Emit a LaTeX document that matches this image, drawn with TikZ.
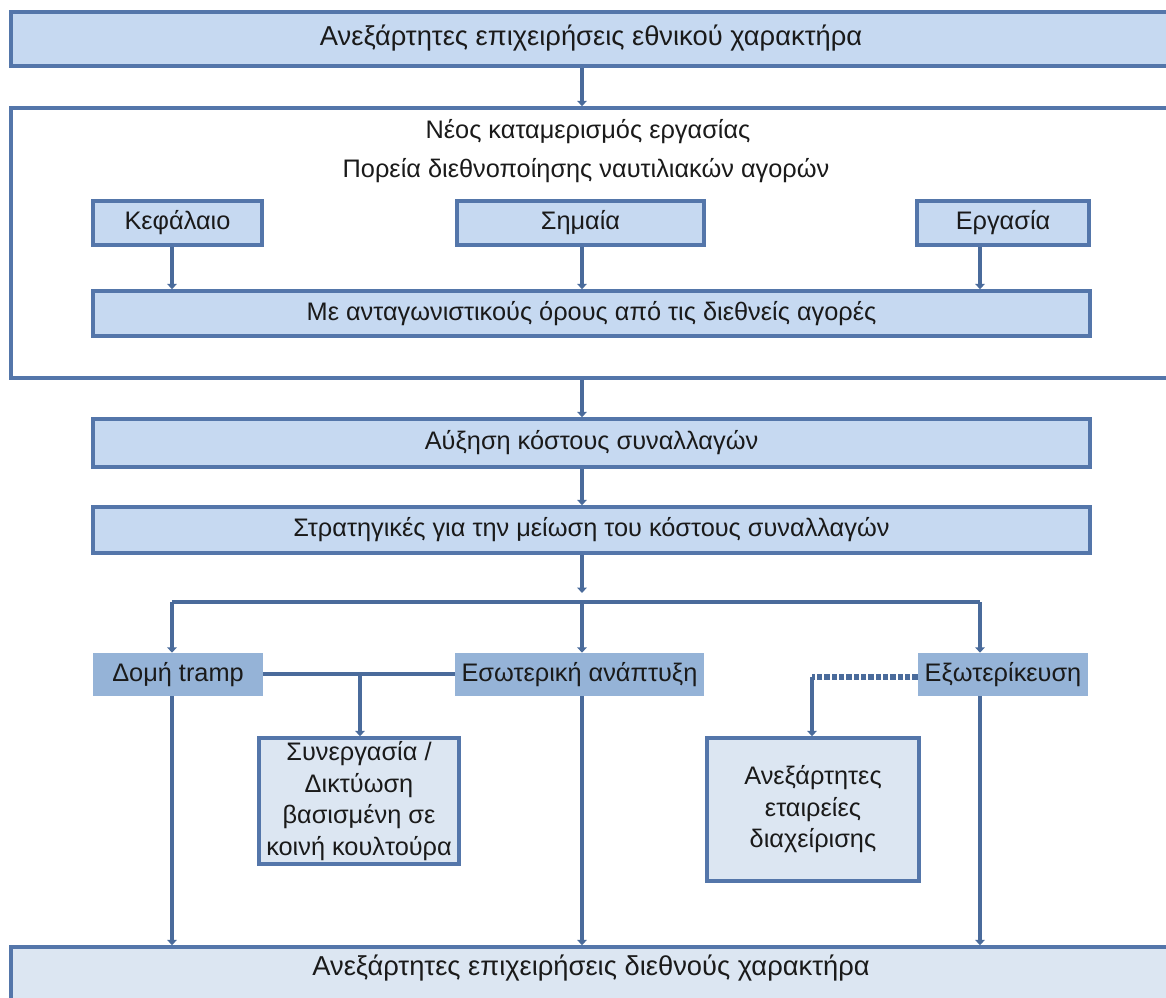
\documentclass[tikz,border=0pt]{standalone}
\usepackage{fontspec}
\setmainfont{Liberation Sans}
\usetikzlibrary{arrows.meta}
\definecolor{bord}{HTML}{5476AA}
\definecolor{conn}{HTML}{4A6B9B}
\definecolor{fillA}{HTML}{C6D9F1}
\definecolor{fillB}{HTML}{DCE6F2}
\definecolor{fillC}{HTML}{95B3D7}
\definecolor{txtc}{HTML}{1A1A1A}
\begin{document}
\begin{tikzpicture}[x=0.75pt,y=-0.75pt,
  font=\fontsize{19}{23.6}\selectfont, text=txtc,
  boxA/.style={draw=bord, line width=2.6pt, fill=fillA, inner sep=0pt, align=center},
  boxB/.style={draw=bord, line width=2.6pt, fill=fillB, inner sep=0pt, align=center},
  boxW/.style={draw=bord, line width=2.6pt, fill=white, inner sep=0pt},
  boxC/.style={fill=fillC, inner sep=0pt, align=center},
  txt/.style={inner sep=0pt},
  big/.style={font=\fontsize{20.5}{24}\selectfont},
  conn/.style={draw=conn, line width=3pt},
  arr/.style={conn, -{Triangle[width=7pt,length=4pt]}},
  dsh/.style={draw=conn, line width=3.8pt, dash pattern=on 4pt off 1.5pt}]
\useasboundingbox (0,0) rectangle (1166,997);
\clip (0,0) rectangle (1166,997);
\coordinate (cx) at (582,0);
% top box
\node[boxA, minimum width=870.75pt, minimum height=40.5pt] (top) at (591.5,39) {};
\node[txt, big] (toplabel) at (591,38) {Ανεξάρτητες επιχειρήσεις εθνικού χαρακτήρα};
% outer box
\node[boxW, minimum width=870.75pt, minimum height=202.5pt] (outer) at (591.5,243) {};
\node[txt] (neos) at (588,132) {Νέος καταμερισμός εργασίας};
\node[txt] (poreia) at (586,171) {Πορεία διεθνοποίησης ναυτιλιακών αγορών};
\node[boxA, minimum width=126.75pt, minimum height=33pt] (kef) at (177.5,223) {Κεφάλαιο};
\node[boxA, minimum width=185.25pt, minimum height=33pt] (sim) at (580.5,223) {Σημαία};
\node[boxA, minimum width=129pt, minimum height=33pt] (erg) at (1003,223) {Εργασία};
\node[boxA, minimum width=747.75pt, minimum height=33.75pt] (me) at (591.5,313.5) {Με ανταγωνιστικούς όρους από τις διεθνείς αγορές};
\node[boxA, minimum width=747.75pt, minimum height=36pt] (afx) at (591.5,443) {Αύξηση κόστους συναλλαγών};
\node[boxA, minimum width=747.75pt, minimum height=34.5pt] (str) at (591.5,530) {Στρατηγικές για την μείωση του κόστους συναλλαγών};
% strategies
\node[boxC, minimum width=127.5pt, minimum height=32.25pt] (tramp) at (178,674.5) {Δομή tramp};
\node[boxC, minimum width=186.75pt, minimum height=32.25pt] (eso) at (579.5,674.5) {Εσωτερική ανάπτυξη};
\node[boxC, minimum width=127.5pt, minimum height=32.25pt] (exo) at (1003,674.5) {Εξωτερίκευση};
\node[boxB, minimum width=150pt, minimum height=94.5pt] (syn) at (359,801) {Συνεργασία /\\Δικτύωση\\βασισμένη σε\\κοινή κουλτούρα};
\node[boxB, minimum width=159pt, minimum height=107.25pt] (ane) at (813,809.5) {Ανεξάρτητες\\εταιρείες\\διαχείρισης};
% bottom box
\node[boxB, minimum width=870.75pt, minimum height=43.5pt] (bot) at (591.5,976) {};
\node[txt, big] (botlabel) at (591,968) {Ανεξάρτητες επιχειρήσεις διεθνούς χαρακτήρα};
% connector coordinates
\coordinate (xk) at (172,0);
\coordinate (xe) at (980,0);
\coordinate (hl) at (0,602);
\coordinate (hy) at (0,674);
\coordinate (xs) at (360,0);
\coordinate (xa) at (812,0);
\coordinate (dy) at (0,677);
\coordinate (stop) at (0,593);
% connectors
\draw[arr] (top.south -| cx) -- (outer.north -| cx);
\draw[arr] (kef.south -| xk) -- (me.north -| xk);
\draw[arr] (sim.south -| cx) -- (me.north -| cx);
\draw[arr] (erg.south -| xe) -- (me.north -| xe);
\draw[arr] (outer.south -| cx) -- (afx.north -| cx);
\draw[arr] (afx.south -| cx) -- (str.north -| cx);
\draw[arr] (str.south -| cx) -- (stop -| cx);
\draw[conn] (hl -| xk) -- (hl -| xe);
\draw[arr] (hl -| xk) -- (tramp.north -| xk);
\draw[arr] (hl -| cx) -- (eso.north -| cx);
\draw[arr] (hl -| xe) -- (exo.north -| xe);
\draw[conn] (tramp.east |- hy) -- (eso.west |- hy);
\draw[arr] (hy -| xs) -- (syn.north -| xs);
\draw[dsh] (exo.west |- dy) -- (dy -| xa);
\draw[arr] (dy -| xa) -- (ane.north -| xa);
\draw[arr] (tramp.south -| xk) -- (bot.north -| xk);
\draw[arr] (eso.south -| cx) -- (bot.north -| cx);
\draw[arr] (exo.south -| xe) -- (bot.north -| xe);
\end{tikzpicture}
\end{document}
